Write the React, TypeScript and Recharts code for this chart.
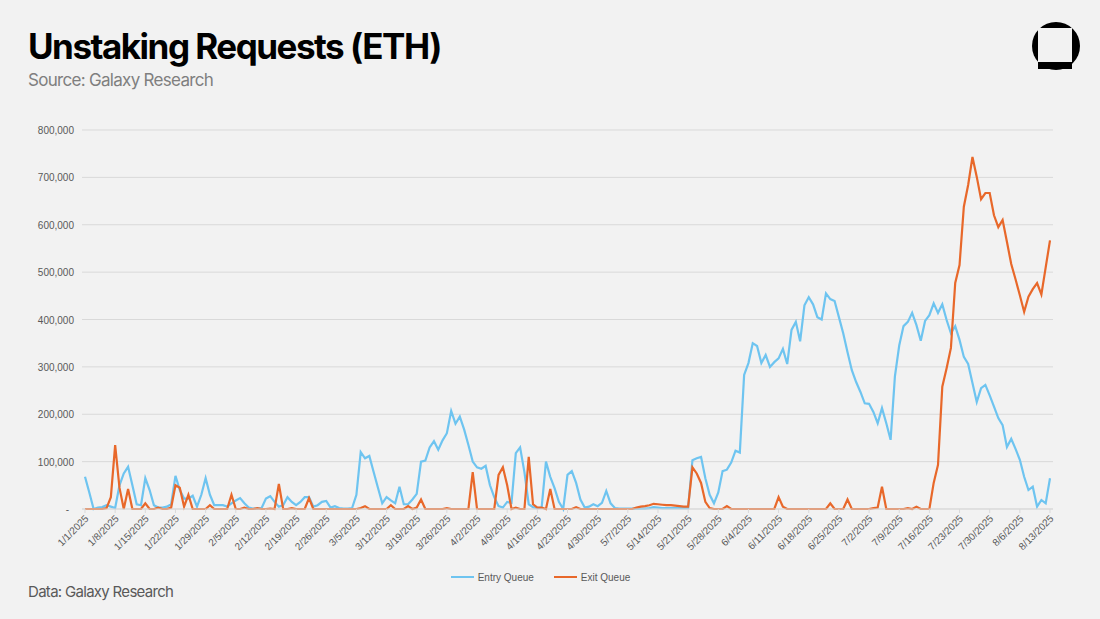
import React from "react";
import { LineChart, Line, XAxis, YAxis, CartesianGrid, Legend } from "recharts";

// Daily values, thousands of ETH, 1/1/2025 .. 8/13/2025
const entryQueueK = [
  68, 35, 0, 3, 4, 8, 5, 2, 50, 75, 89, 50, 10, 8, 65, 40, 8, 3, 3, 5,
  10, 70, 40, 22, 22, 28, 5, 30, 65, 30, 8, 8, 8, 5, 12, 18, 23, 12, 3, 1,
  1, 2, 22, 27, 15, 5, 8, 25, 15, 8, 15, 25, 25, 5, 8, 15, 17, 3, 6, 2,
  1, 1, 2, 30, 120, 107, 112, 78, 45, 12, 25, 18, 12, 47, 10, 10, 20, 32, 100, 102,
  130, 143, 125, 145, 160, 207, 180, 195, 168, 135, 100, 88, 85, 91, 50, 25, 6, 3, 15, 13,
  118, 130, 78, 10, 4, 2, 3, 100, 68, 44, 15, 0, 72, 80, 55, 20, 3, 5, 10, 6,
  13, 38, 12, 2, 1, 1, 1, 1, 1, 1, 1, 2, 4, 3, 2, 2, 2, 2, 2, 2,
  2, 103, 107, 110, 65, 30, 12, 35, 80, 83, 98, 123, 119, 283, 308, 350, 344, 308, 325, 300,
  310, 318, 338, 306, 378, 395, 354, 430, 447, 432, 405, 400, 455, 443, 439, 405, 371, 331, 293, 268,
  247, 223, 222, 205, 181, 213, 181, 146, 280, 345, 386, 395, 414, 388, 355, 397, 409, 434, 414, 432,
  399, 371, 386, 357, 321, 306, 266, 226, 255, 262, 240, 216, 192, 177, 131, 148, 127, 104, 68, 40,
  47, 5, 19, 12, 65,
];

const exitQueueK = [
  0, 0, 0, 0, 0, 2, 25, 135, 45, 0, 42, 0, 0, 0, 12, 0, 0, 3, 0, 0,
  3, 50, 45, 5, 30, 0, 0, 0, 0, 8, 0, 0, 0, 0, 30, 0, 0, 3, 0, 0,
  2, 0, 0, 1, 0, 53, 0, 0, 2, 0, 0, 0, 23, 0, 0, 0, 0, 0, 0, 0,
  0, 0, 0, 0, 2, 6, 0, 0, 0, 0, 0, 8, 0, 0, 0, 6, 0, 3, 20, 0,
  0, 0, 0, 0, 2, 0, 0, 0, 0, 0, 78, 0, 0, 0, 0, 0, 72, 88, 50, 0,
  3, 0, 0, 110, 10, 3, 3, 0, 42, 0, 0, 0, 0, 0, 4, 0, 0, 0, 0, 0,
  0, 0, 0, 0, 0, 0, 0, 0, 3, 5, 6, 8, 11, 10, 9, 8, 8, 7, 6, 5,
  5, 88, 75, 55, 15, 2, 0, 0, 0, 6, 0, 0, 0, 0, 0, 0, 0, 0, 0, 0,
  0, 25, 5, 0, 0, 0, 0, 0, 0, 0, 0, 0, 0, 12, 0, 0, 0, 20, 0, 0,
  0, 0, 0, 2, 3, 47, 0, 0, 0, 0, 0, 2, 0, 5, 0, 0, 0, 55, 93, 258,
  297, 340, 477, 515, 638, 684, 743, 701, 654, 667, 667, 620, 595, 610, 564, 517, 485, 451, 416, 448,
  464, 477, 453, 510, 567,
];

const yTicksK = [0, 100, 200, 300, 400, 500, 600, 700, 800];

const START_MS = Date.UTC(2025, 0, 1);
const dateLabels = entryQueueK.map((_, i) => {
  const d = new Date(START_MS + i * 86400000);
  return `${d.getUTCMonth() + 1}/${d.getUTCDate()}/2025`;
});

const rows = dateLabels.map((date, i) => ({
  date,
  entry: entryQueueK[i],
  exit: exitQueueK[i],
}));

const BLUE = "#6ec4f0";
const ORANGE = "#e8682a";
const LABEL = "#595959";
const AXIS_FONT = "'Liberation Sans', Arial, sans-serif";

const XTick = (props: any) => {
  const { x, y, payload } = props;
  return (
    <g transform={`translate(${x},${y})`}>
      <text
        x={0}
        y={0}
        dy={6}
        textAnchor="end"
        transform="rotate(-45)"
        fill={LABEL}
        fontSize={10}
        fontFamily={AXIS_FONT}
      >
        {payload.value}
      </text>
    </g>
  );
};

const YTick = (props: any) => {
  const { x, y, payload } = props;
  const v = payload.value as number;
  const label = v === 0 ? "-" : (v * 1000).toLocaleString("en-US");
  return (
    <text
      x={v === 0 ? x - 5 : x}
      y={y}
      dy={4}
      textAnchor="end"
      fill={LABEL}
      fontSize={10}
      fontFamily={AXIS_FONT}
    >
      {label}
    </text>
  );
};

const LegendContent = () => (
  <div
    style={{
      display: "flex",
      justifyContent: "center",
      alignItems: "center",
      gap: 20,
      fontFamily: AXIS_FONT,
      fontSize: 10,
      color: LABEL,
      height: 16,
      paddingLeft: 6,
    }}
  >
    {[
      { name: "Entry Queue", color: BLUE },
      { name: "Exit Queue", color: ORANGE },
    ].map((it) => (
      <div key={it.name} style={{ display: "flex", alignItems: "center" }}>
        <div style={{ width: 23, height: 2.5, background: it.color, marginRight: 4 }} />
        <span>{it.name}</span>
      </div>
    ))}
  </div>
);

const Logo = () => (
  <svg width={60} height={60} viewBox="0 0 60 60" style={{ position: "absolute", left: 1026, top: 16 }}>
    <circle cx={30} cy={30} r={24} fill="#000" />
    <rect x={12} y={12} width={34} height={34} fill="#f2f2f2" />
    <rect x={12} y={46} width={34} height={7} fill="#000" />
  </svg>
);

export default function App() {
  return (
    <div
      style={{
        position: "fixed",
        left: 0,
        top: 0,
        width: 1100,
        height: 619,
        background: "#f2f2f2",
        overflow: "hidden",
      }}
    >
      <div
        style={{
          position: "absolute",
          left: 28,
          top: 24,
          fontFamily: "Inter, sans-serif",
          fontWeight: 700,
          fontSize: 35,
          letterSpacing: -1.5,
          color: "#000",
          lineHeight: "44px",
          whiteSpace: "nowrap",
        }}
      >
        Unstaking Requests (ETH)
      </div>
      <div
        style={{
          position: "absolute",
          left: 28,
          top: 68,
          fontFamily: "Inter, sans-serif",
          fontSize: 17,
          letterSpacing: -0.7,
          color: "#7f7f7f",
          lineHeight: "24px",
          whiteSpace: "nowrap",
        }}
      >
        Source: Galaxy Research
      </div>
      <Logo />
      <div style={{ position: "absolute", left: 0, top: 0 }}>
        <LineChart
          width={1100}
          height={619}
          data={rows}
          margin={{ top: 130, right: 47, bottom: 20, left: 22 }}
        >
          <CartesianGrid vertical={false} stroke="#d9d9d9" strokeWidth={1} />
          <XAxis
            dataKey="date"
            interval={6}
            tick={<XTick />}
            tickLine={{ stroke: "#d9d9d9" }}
            tickSize={4}
            axisLine={{ stroke: "#d9d9d9" }}
            height={60}
            padding={{ left: 3, right: 3 }}
          />
          <YAxis
            domain={[0, 800]}
            ticks={yTicksK}
            width={60}
            axisLine={false}
            tickLine={false}
            tick={<YTick />}
          />
          <Legend verticalAlign="bottom" height={30} content={<LegendContent />} />
          <Line
            type="linear"
            dataKey="entry"
            name="Entry Queue"
            stroke={BLUE}
            strokeWidth={2.2}
            dot={false}
            isAnimationActive={false}
          />
          <Line
            type="linear"
            dataKey="exit"
            name="Exit Queue"
            stroke={ORANGE}
            strokeWidth={2.2}
            dot={false}
            isAnimationActive={false}
          />
        </LineChart>
      </div>
      <div
        style={{
          position: "absolute",
          left: 28,
          top: 581,
          fontFamily: "Inter, sans-serif",
          fontSize: 15,
          letterSpacing: -0.7,
          color: LABEL,
          lineHeight: "22px",
          whiteSpace: "nowrap",
        }}
      >
        Data: Galaxy Research
      </div>
    </div>
  );
}
